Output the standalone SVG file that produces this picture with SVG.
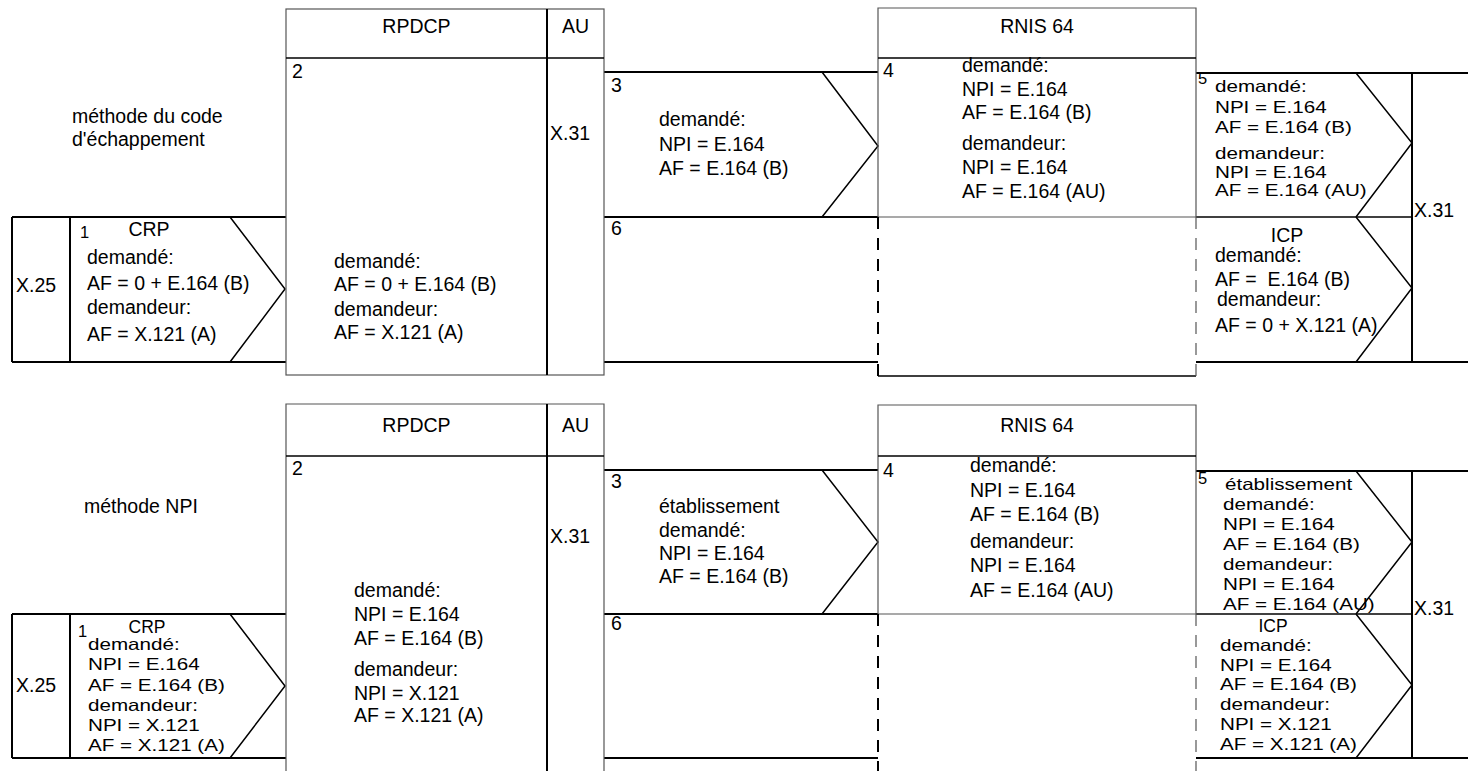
<svg xmlns="http://www.w3.org/2000/svg" width="1468" height="771" viewBox="0 0 1468 771">
<style>
text{font-family:"Liberation Sans",Arial,sans-serif;font-size:19.5px;fill:#000}
.m{text-anchor:middle}
.s{font-size:16.5px}
.pre{white-space:pre}
.ln{fill:none;stroke:#000;stroke-width:2}
.ch{fill:none;stroke:#000;stroke-width:1.5}
.bx{fill:none;stroke:#555;stroke-width:1.2}
.hd{fill:none;stroke:#000;stroke-width:1.5}
.dk{fill:none;stroke:#000;stroke-width:2;stroke-dasharray:12 9}
.dg{fill:none;stroke:#555;stroke-width:1.2;stroke-dasharray:12 9}
</style>
<rect width="1468" height="771" fill="#fff"/>

<g id="connectors">
  <path class="ln" d="M12 217H286M12 362H286M12 217V362M70 217V362"/>
  <path class="ln" d="M604 72H878M604 217H878M604 362H878"/>
  <path class="ln" d="M1196 73H1468M1196 362H1468M1412 73V362"/>
  <path class="hd" d="M1196 217H1412"/>
  <path class="ch" d="M230 217L285 289L230 362M822 72L878 146L822 217M1356 73L1412 143L1356 217M1356 217L1412 288L1356 362"/>
  <path class="ln" d="M12 614H286M12 758H286M12 614V758M70 614V758"/>
  <path class="ln" d="M604 470H878M604 614H878M604 758H878"/>
  <path class="ln" d="M1196 471H1468M1196 758H1468M1412 471V758"/>
  <path class="hd" d="M1196 614H1412"/>
  <path class="ch" d="M230 614L285 686L230 758M822 470L878 542L822 614M1356 471L1412 542L1356 614M1356 614L1412 685L1356 758"/>
</g>

<g id="label-escape">
  <text x="72" y="123">méthode du code</text>
  <text x="72" y="146">d'échappement</text>
</g>

<g id="x25-top"><text x="16" y="292">X.25</text></g>
<g id="crp-top">
  <text x="80" y="238" class="s">1</text>
  <text x="149" y="236" class="m">CRP</text>
  <text x="87" y="264">demandé:</text>
  <text x="87" y="290">AF = 0 + E.164 (B)</text>
  <text x="87" y="314">demandeur:</text>
  <text x="87" y="341">AF = X.121 (A)</text>
</g>

<g id="rpdcp-top">
  <rect class="bx" x="286" y="9" width="318" height="366"/>
  <path class="hd" d="M286 58H604"/>
  <path class="ln" d="M547 9V375"/>
  <text x="416.5" y="33" class="m">RPDCP</text>
  <text x="575.5" y="33" class="m">AU</text>
  <text x="292" y="78">2</text>
  <text x="550" y="140">X.31</text>
  <text x="334" y="268">demandé:</text>
  <text x="334" y="291">AF = 0 + E.164 (B)</text>
  <text x="334" y="316">demandeur:</text>
  <text x="334" y="339">AF = X.121 (A)</text>
</g>

<g id="sig3-top">
  <text x="611" y="92">3</text>
  <text x="659" y="126">demandé:</text>
  <text x="659" y="151">NPI = E.164</text>
  <text x="659" y="175">AF = E.164 (B)</text>
</g>
<g id="sig6-top"><text x="611" y="235">6</text></g>

<g id="rnis-top">
  <path class="bx" d="M878 217V8H1196V217M878 217H1196"/>
  <path class="hd" d="M878 58H1196M878 376H1196"/>
  <path class="dk" d="M878 217V376"/>
  <path class="dg" d="M1196 217V376"/>
  <text x="1037" y="33" class="m">RNIS 64</text>
  <text x="883" y="77">4</text>
  <text x="962" y="72">demandé:</text>
  <text x="962" y="96">NPI = E.164</text>
  <text x="962" y="119">AF = E.164 (B)</text>
  <text x="962" y="150">demandeur:</text>
  <text x="962" y="174">NPI = E.164</text>
  <text x="962" y="198">AF = E.164 (AU)</text>
</g>

<g id="sig5-top">
  <text x="1198" y="84" class="s">5</text>
  <g transform="translate(1215,0) scale(1.25,1)">
    <text x="0" y="92" class="s">demandé:</text>
    <text x="0" y="113" class="s">NPI = E.164</text>
    <text x="0" y="133" class="s">AF = E.164 (B)</text>
    <text x="0" y="159" class="s">demandeur:</text>
    <text x="0" y="178" class="s">NPI = E.164</text>
    <text x="0" y="196" class="s">AF = E.164 (AU)</text>
  </g>
</g>
<g id="icp-top">
  <text x="1287" y="242" class="m">ICP</text>
  <text x="1215" y="262">demandé:</text>
  <text x="1215" y="286" class="pre">AF =  E.164 (B)</text>
  <text x="1217" y="306">demandeur:</text>
  <text x="1215" y="332">AF = 0 + X.121 (A)</text>
</g>
<g id="x31-top"><text x="1414" y="217">X.31</text></g>

<g id="label-npi"><text x="84" y="513">méthode NPI</text></g>

<g id="x25-bottom"><text x="16" y="692">X.25</text></g>
<g id="crp-bottom">
  <text x="78" y="637" class="s">1</text>
  <text x="147" y="633" class="m" style="font-size:17.5px">CRP</text>
  <g transform="translate(88,0) scale(1.25,1)">
    <text x="0" y="650" class="s">demandé:</text>
    <text x="0" y="670" class="s">NPI = E.164</text>
    <text x="0" y="691" class="s">AF = E.164 (B)</text>
    <text x="0" y="711" class="s">demandeur:</text>
    <text x="0" y="731" class="s">NPI = X.121</text>
    <text x="0" y="751" class="s">AF = X.121 (A)</text>
  </g>
</g>

<g id="rpdcp-bottom">
  <path class="bx" d="M286 771V404H604V771"/>
  <path class="hd" d="M286 456H604"/>
  <path class="ln" d="M547 404V771"/>
  <text x="416.5" y="432" class="m">RPDCP</text>
  <text x="575.5" y="432" class="m">AU</text>
  <text x="292" y="475">2</text>
  <text x="550" y="543">X.31</text>
  <text x="354" y="597">demandé:</text>
  <text x="354" y="621">NPI = E.164</text>
  <text x="354" y="645">AF = E.164 (B)</text>
  <text x="354" y="676">demandeur:</text>
  <text x="354" y="700">NPI = X.121</text>
  <text x="354" y="722">AF = X.121 (A)</text>
</g>

<g id="sig3-bottom">
  <text x="611" y="488">3</text>
  <text x="659" y="513">établissement</text>
  <text x="659" y="537">demandé:</text>
  <text x="659" y="560">NPI = E.164</text>
  <text x="659" y="583">AF = E.164 (B)</text>
</g>
<g id="sig6-bottom"><text x="611" y="630">6</text></g>

<g id="rnis-bottom">
  <path class="bx" d="M878 614V405H1196V614M878 614H1196"/>
  <path class="hd" d="M878 456H1196"/>
  <path class="dk" d="M878 614V771"/>
  <path class="dg" d="M1196 614V771"/>
  <text x="1037" y="432" class="m">RNIS 64</text>
  <text x="883" y="477">4</text>
  <text x="970" y="472">demandé:</text>
  <text x="970" y="497">NPI = E.164</text>
  <text x="970" y="521">AF = E.164 (B)</text>
  <text x="970" y="548">demandeur:</text>
  <text x="970" y="572">NPI = E.164</text>
  <text x="970" y="597">AF = E.164 (AU)</text>
</g>

<g id="sig5-bottom">
  <text x="1198" y="484" class="s">5</text>
  <g transform="translate(1223,0) scale(1.25,1)">
    <text x="1.6" y="490" class="s">établissement</text>
    <text x="0" y="510" class="s">demandé:</text>
    <text x="0" y="530" class="s">NPI = E.164</text>
    <text x="0" y="550" class="s">AF = E.164 (B)</text>
    <text x="0" y="570" class="s">demandeur:</text>
    <text x="0" y="590" class="s">NPI = E.164</text>
    <text x="0" y="610" class="s">AF = E.164 (AU)</text>
  </g>
</g>
<g id="icp-bottom">
  <text x="1273" y="632" class="m" style="font-size:17.5px">ICP</text>
  <g transform="translate(1220,0) scale(1.25,1)">
    <text x="0" y="651" class="s">demandé:</text>
    <text x="0" y="671" class="s">NPI = E.164</text>
    <text x="0" y="690" class="s">AF = E.164 (B)</text>
    <text x="0" y="710" class="s">demandeur:</text>
    <text x="0" y="730" class="s">NPI = X.121</text>
    <text x="0" y="750" class="s">AF = X.121 (A)</text>
  </g>
</g>
<g id="x31-bottom"><text x="1414" y="615">X.31</text></g>
</svg>
